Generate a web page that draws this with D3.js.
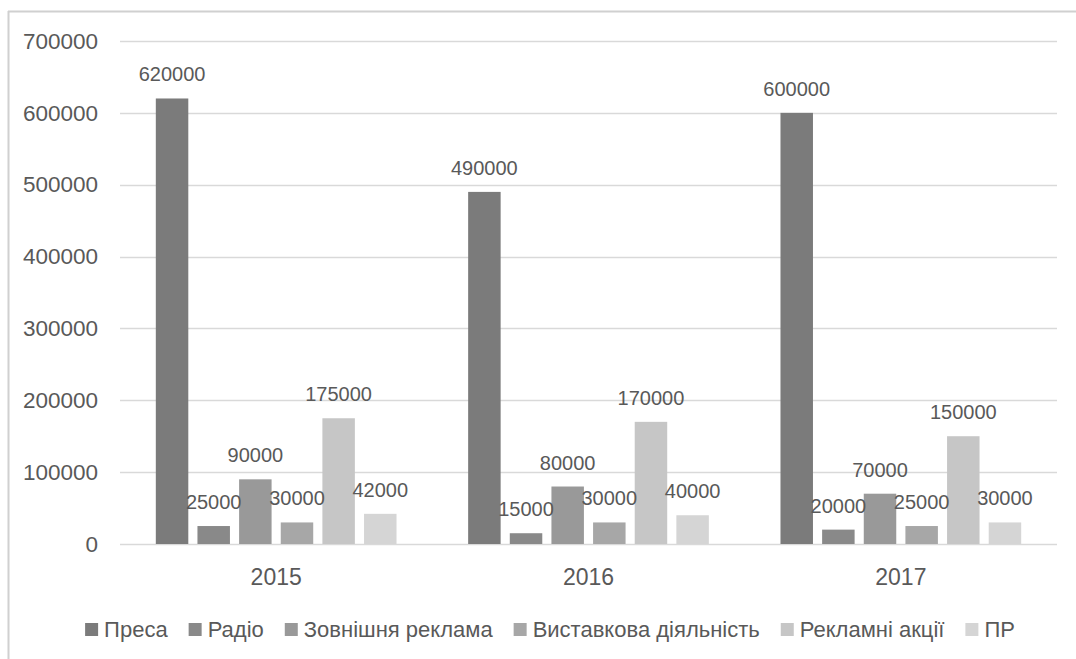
<!DOCTYPE html>
<html><head><meta charset="utf-8">
<script src="https://cdn.jsdelivr.net/npm/d3@7/dist/d3.min.js"></script>
<style>
html,body{margin:0;padding:0;background:#fff;}
svg{display:block;}
text{font-family:"Liberation Sans",Arial,sans-serif;fill:#595959;}
</style></head>
<body>
<svg id="chart" width="1076" height="659"></svg>
<script>
const years = ["2015","2016","2017"];
const seriesNames = ["Преса","Радіо","Зовнішня реклама","Виставкова діяльність","Рекламні акції","ПР"];
const seriesColors = ["#7b7b7b","#898989","#999999","#a7a7a7","#c6c6c6","#d5d5d5"];
const press = [620000,490000,600000];
const radio = [25000,15000,20000];
const outdoor = [90000,80000,70000];
const exhibition = [30000,30000,25000];
const promo = [175000,170000,150000];
const pr = [42000,40000,30000];
const yTicks = [0,100000,200000,300000,400000,500000,600000,700000];

const seriesValues = [press,radio,outdoor,exhibition,promo,pr];

const svg = d3.select("#chart");
svg.append("rect").attr("width",1076).attr("height",659).attr("fill","#fff");
// outer frame
svg.append("line").attr("x1",8).attr("x2",1076).attr("y1",11.5).attr("y2",11.5).attr("stroke","#d0d0d0").attr("stroke-width",2);
svg.append("line").attr("x1",8.5).attr("x2",8.5).attr("y1",11).attr("y2",659).attr("stroke","#d0d0d0").attr("stroke-width",2);

const pLeft = 120, pRight = 1057, pTop = 41, pBottom = 544;
const y = d3.scaleLinear().domain([0,700000]).range([pBottom, pTop]);
const x0 = d3.scaleBand().domain(years).range([pLeft,pRight]).paddingInner(0.2).paddingOuter(0.1);
const x1 = d3.scaleBand().domain(seriesNames).range([0,x0.bandwidth()]).paddingInner(0.22).paddingOuter(0.11);

// gridlines
const grid = svg.append("g");
grid.selectAll("line").data(yTicks).join("line")
  .attr("x1",pLeft).attr("x2",pRight)
  .attr("y1",d=>Math.round(y(d))+0.5).attr("y2",d=>Math.round(y(d))+0.5)
  .attr("stroke","#d9d9d9").attr("stroke-width",1.3);

// y axis labels
const yAxis = d3.axisLeft(y).tickValues(yTicks).tickSize(0).tickPadding(0).tickFormat(d3.format("d"));
const yg = svg.append("g").attr("transform",`translate(98,0)`).call(yAxis);
yg.select(".domain").remove();
yg.selectAll("text").attr("font-size","22.5px").attr("fill","#595959").style("font-family","Liberation Sans, Arial, sans-serif");

// bars
const data = [];
years.forEach((yr,i)=>{
  seriesNames.forEach((s,j)=>{
    data.push({year:yr, series:s, value:seriesValues[j][i], color:seriesColors[j]});
  });
});
svg.append("g").selectAll("rect").data(data).join("rect")
  .attr("x",d=>x0(d.year)+x1(d.series))
  .attr("width",x1.bandwidth())
  .attr("y",d=>y(d.value))
  .attr("height",d=>pBottom-y(d.value))
  .attr("fill",d=>d.color);

// data labels
svg.append("g").selectAll("text").data(data).join("text")
  .attr("x",d=>x0(d.year)+x1(d.series)+x1.bandwidth()/2)
  .attr("y",d=>y(d.value)-17)
  .attr("text-anchor","middle")
  .attr("font-size","20px")
  .attr("fill","#404040")
  .text(d=>d.value);

// x axis labels
const xAxis = d3.axisBottom(x0).tickSize(0).tickPadding(0);
const xg = svg.append("g").attr("transform",`translate(0,${pBottom})`).call(xAxis);
xg.select(".domain").remove();
xg.selectAll("text").attr("font-size","23px").attr("fill","#595959").attr("dy",0).attr("y",41)
  .style("font-family","Liberation Sans, Arial, sans-serif");

// legend
const legend = svg.append("g").attr("transform","translate(0,629)");
const items = legend.selectAll("g").data(seriesNames).join("g");
items.append("rect").attr("width",13).attr("height",13).attr("y",-6).attr("fill",(d,i)=>seriesColors[i]);
items.append("text").attr("x",19).attr("y",8).attr("font-size","22px").attr("fill","#595959").text(d=>d);
let widths = [];
items.each(function(){ widths.push(19 + this.querySelector("text").getComputedTextLength()); });
const gap = 21;
const total = d3.sum(widths) + gap*(widths.length-1);
let cx = (88 + 1012 - total)/2;
items.attr("transform",(d,i)=>{ const t = `translate(${cx},0)`; cx += widths[i]+gap; return t; });
</script>
</body></html>
